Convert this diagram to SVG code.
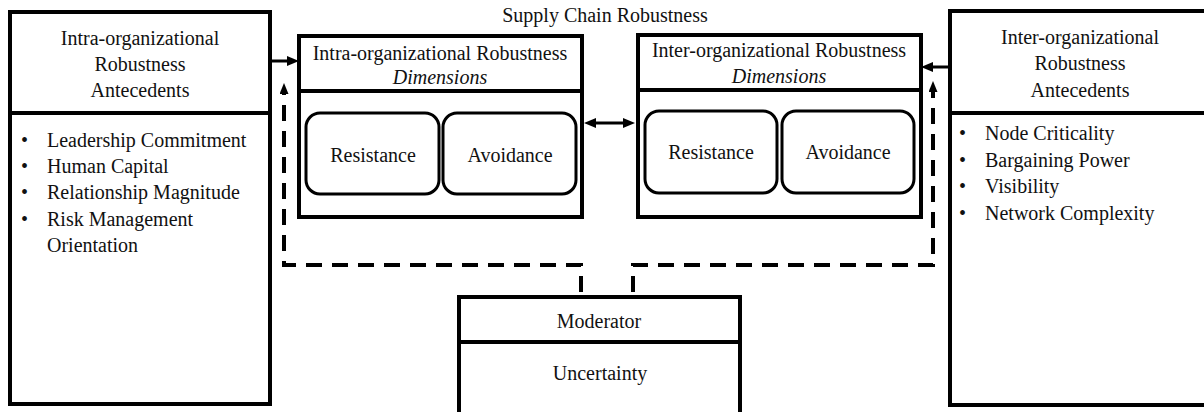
<svg xmlns="http://www.w3.org/2000/svg" width="1204" height="412" viewBox="0 0 1204 412">
  <style>
    text { font-family: "Liberation Serif", "Times New Roman", serif; font-size: 20px; fill: #111; }
    .c { text-anchor: middle; }
    .it { font-style: italic; }
    .box { fill: #fff; stroke: #000; stroke-width: 4; }
    .div { stroke: #000; stroke-width: 4; fill: none; }
    .rbox { fill: #fff; stroke: #000; stroke-width: 3; }
    .solid { stroke: #000; stroke-width: 3; fill: none; }
    .dash { stroke: #000; stroke-width: 4; fill: none; stroke-dasharray: 16 10; }
  </style>
  <defs>
    <marker id="head" markerUnits="userSpaceOnUse" markerWidth="12" markerHeight="10" refX="2" refY="5" orient="auto-start-reverse">
      <path d="M0,0 L12,5 L0,10 Z" fill="#000"/>
    </marker>
    <marker id="headUp" markerUnits="userSpaceOnUse" markerWidth="11" markerHeight="9" refX="1" refY="4.5" orient="auto">
      <path d="M0,0 L11,4.5 L0,9 Z" fill="#000"/>
    </marker>
  </defs>

  <text class="c" x="605" y="22">Supply Chain Robustness</text>

  <g id="intra-antecedents">
    <rect class="box" x="10" y="12" width="260" height="392"/>
    <line class="div" x1="10" y1="113" x2="270" y2="113"/>
    <text class="c" x="140" y="45">Intra-organizational</text>
    <text class="c" x="140" y="71">Robustness</text>
    <text class="c" x="140" y="97">Antecedents</text>
    <text x="21" y="147">•</text><text x="47" y="147">Leadership Commitment</text>
    <text x="21" y="173">•</text><text x="47" y="173">Human Capital</text>
    <text x="21" y="199">•</text><text x="47" y="199">Relationship Magnitude</text>
    <text x="21" y="226">•</text><text x="47" y="226">Risk Management</text>
    <text x="47" y="252">Orientation</text>
  </g>

  <g id="inter-antecedents">
    <path class="box" d="M1210,11 H950 V405 H1210"/>
    <line class="div" x1="950" y1="113" x2="1210" y2="113"/>
    <text class="c" x="1080" y="44">Inter-organizational</text>
    <text class="c" x="1080" y="70">Robustness</text>
    <text class="c" x="1080" y="97">Antecedents</text>
    <text x="959" y="140">•</text><text x="985" y="140">Node Criticality</text>
    <text x="959" y="167">•</text><text x="985" y="167">Bargaining Power</text>
    <text x="959" y="193">•</text><text x="985" y="193">Visibility</text>
    <text x="959" y="220">•</text><text x="985" y="220">Network Complexity</text>
  </g>

  <g id="intra-dimensions">
    <rect class="box" x="299" y="36" width="283" height="181"/>
    <line class="div" x1="299" y1="91" x2="582" y2="91"/>
    <text class="c" x="440" y="60">Intra-organizational Robustness</text>
    <text class="c it" x="440" y="84">Dimensions</text>
    <rect class="rbox" x="306" y="113" width="133" height="81" rx="14"/>
    <rect class="rbox" x="443" y="113" width="133" height="81" rx="14"/>
    <text class="c" x="373" y="162">Resistance</text>
    <text class="c" x="510" y="162">Avoidance</text>
  </g>

  <g id="inter-dimensions">
    <rect class="box" x="638" y="35" width="283" height="182"/>
    <line class="div" x1="638" y1="90" x2="921" y2="90"/>
    <text class="c" x="779" y="57">Inter-organizational Robustness</text>
    <text class="c it" x="779" y="83">Dimensions</text>
    <rect class="rbox" x="645" y="111" width="132" height="82" rx="14"/>
    <rect class="rbox" x="782" y="111" width="132" height="82" rx="14"/>
    <text class="c" x="711" y="159">Resistance</text>
    <text class="c" x="848" y="159">Avoidance</text>
  </g>

  <g id="moderator">
    <path class="box" d="M459,420 V297 H740 V420"/>
    <line class="div" x1="459" y1="342" x2="740" y2="342"/>
    <text class="c" x="599" y="328">Moderator</text>
    <text class="c" x="600" y="380">Uncertainty</text>
  </g>

  <g id="connectors">
    <line class="solid" x1="271" y1="61" x2="289" y2="61" marker-end="url(#head)"/>
    <line class="solid" x1="950" y1="67" x2="931" y2="67" marker-end="url(#head)"/>
    <line class="solid" x1="594" y1="123" x2="625" y2="123" marker-start="url(#head)" marker-end="url(#head)"/>
    <path class="dash" d="M581,292 V265 H284 V93" marker-end="url(#headUp)"/>
    <path class="dash" d="M633,292 V265 H933 V91" marker-end="url(#headUp)"/>
  </g>
</svg>
